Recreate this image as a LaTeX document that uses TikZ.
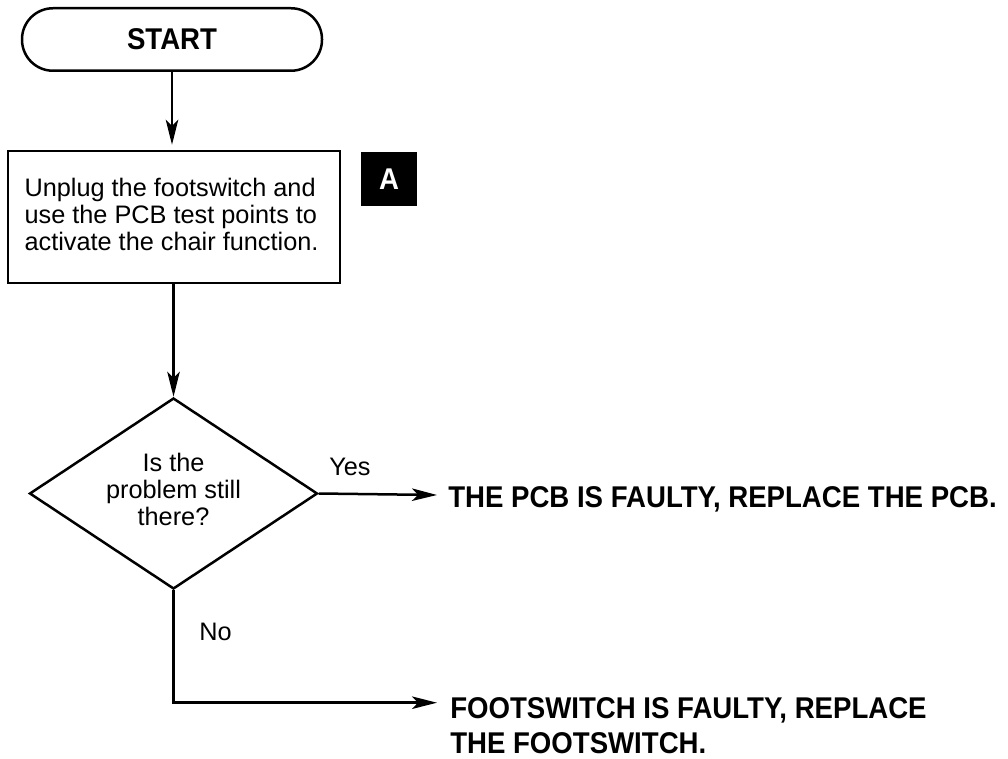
\documentclass[tikz,border=0pt]{standalone}
\usepackage{fontspec}
\setmainfont{Liberation Sans}
\newfontfamily\condbold{Liberation Sans Bold}[FakeStretch=0.92]
\usetikzlibrary{arrows.meta,shapes.geometric}
\begin{document}
\begin{tikzpicture}[x=1pt,y=-1pt,
  line width=2.5pt,
  every node/.style={inner sep=0pt},
  regtxt/.style={font=\fontsize{25.3}{27}\selectfont},
  boldtxt/.style={font=\condbold\fontsize{30}{35}\selectfont},
  terminal/.style={draw, rectangle, rounded corners=31pt, minimum width=300pt, minimum height=62.5pt, boldtxt},
  procbox/.style={draw, rectangle, minimum width=332pt, minimum height=132pt},
  decision/.style={draw, diamond, minimum width=288pt, minimum height=191pt},
  tagbox/.style={fill=black, text=white, minimum width=56pt, minimum height=54pt, boldtxt},
  arr/.style={-{Stealth[length=25pt,width=12.5pt,inset=6pt]}}]
\useasboundingbox (0,0) rectangle (1008,759);

% nodes
\node[terminal] (start) at (172,39.5) {START};
\node[procbox] (box) at (174.2,217) {};
\node[regtxt, anchor=north west, align=left] (boxtxt) at (23.3,176.5)
  {Unplug the footswitch and\\use the PCB test points to\\activate the chair function.};
\node[tagbox] (tag) at (389,179) {A};
\node[decision] (dec) at (173.5,493.5) {};
\node[regtxt, anchor=north, align=center] (dectxt) at (173.5,452)
  {Is the\\problem still\\there?};
\node[regtxt, anchor=base west] (yes) at (328,475) {Yes};
\node[regtxt, anchor=base west] (no) at (198,640) {No};
\node[boldtxt, anchor=base west] (pcb) at (447,507) {THE PCB IS FAULTY, REPLACE THE PCB.};
\node[boldtxt, anchor=north west, align=left] (fsw) at (449,696.5)
  {FOOTSWITCH IS FAULTY, REPLACE\\THE FOOTSWITCH.};
\coordinate (yesend) at (437,495);
\coordinate (noend) at (437,702.7);

% connectors
\draw[arr, shorten >=5pt] (start.south) -- (start.south |- box.north);
\draw[arr] (box.south -| dec.north) -- (dec.north);
\draw[arr] (dec.east) -- (yesend);
\draw[arr] (dec.south) |- (noend);
\end{tikzpicture}
\end{document}
